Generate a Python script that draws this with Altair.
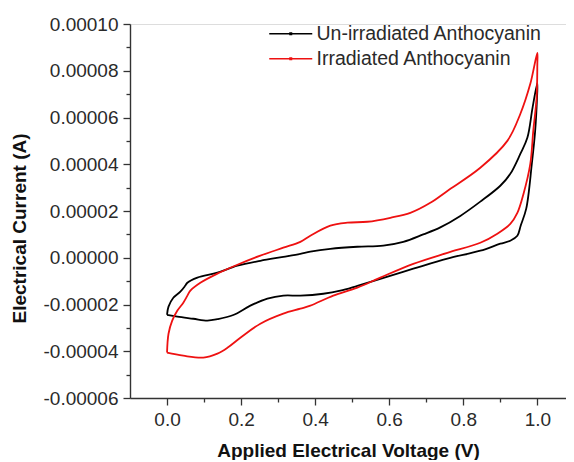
import altair as alt
import pandas as pd

series_names = ["Un-irradiated Anthocyanin", "Irradiated Anthocyanin"]
series_colors = ["#000000", "#ee1111"]

# Un-irradiated: forward scan then reverse scan (current in 1e-5 A)
un_x = [0.0, 0.004, 0.017, 0.036, 0.049, 0.055, 0.082, 0.136, 0.190, 0.252, 0.314, 0.360,
        0.387, 0.441, 0.514, 0.584, 0.638, 0.692, 0.738, 0.792, 0.846, 0.900, 0.927, 0.954,
        0.973, 0.987, 1.0,
        0.999, 0.994, 0.985, 0.970, 0.955, 0.946, 0.927, 0.900, 0.846, 0.757, 0.665, 0.576,
        0.514, 0.468, 0.422, 0.360, 0.314, 0.271, 0.225, 0.179, 0.136, 0.109, 0.071,
        0.028, 0.0]
un_y = [-2.44, -2.09, -1.71, -1.45, -1.20, -1.07, -0.85, -0.64, -0.34, -0.13, 0.04, 0.17,
        0.26, 0.38, 0.47, 0.52, 0.68, 1.00, 1.30, 1.79, 2.40, 3.08, 3.59, 4.44,
        5.13, 6.41, 7.48,
        6.8, 5.4, 4.0, 2.1, 1.37, 0.94, 0.73, 0.60, 0.30, -0.04, -0.47, -0.90,
        -1.20, -1.41, -1.54, -1.62, -1.62, -1.75, -2.05, -2.45, -2.63, -2.69, -2.61,
        -2.52, -2.44]

# Irradiated: forward scan then reverse scan (current in 1e-5 A)
ir_x = [0.0, 0.004, 0.014, 0.028, 0.044, 0.055, 0.063, 0.090, 0.136, 0.190, 0.252, 0.314,
        0.360, 0.387, 0.441, 0.487, 0.541, 0.603, 0.657, 0.711, 0.757, 0.846, 0.919, 0.954,
        0.981, 1.0,
        1.0, 0.998, 0.989, 0.981, 0.962, 0.946, 0.927, 0.892, 0.846, 0.757, 0.665, 0.576,
        0.514, 0.449, 0.387, 0.360, 0.314, 0.252, 0.198, 0.163, 0.136, 0.098, 0.044, 0.0]
ir_y = [-4.06, -3.25, -2.69, -2.26, -1.92, -1.62, -1.41, -1.07, -0.68, -0.30, 0.09, 0.43,
        0.68, 0.94, 1.37, 1.50, 1.54, 1.71, 1.92, 2.35, 2.86, 3.85, 5.0, 6.15,
        7.44, 8.76,
        8.3, 6.84, 5.43, 4.02, 2.7, 1.92, 1.45, 1.03, 0.64, 0.21, -0.26, -0.85,
        -1.28, -1.62, -2.05, -2.18, -2.39, -2.82, -3.42, -3.85, -4.10, -4.27, -4.19, -4.06]

x_ticks = [round(0.1 * k, 1) for k in range(0, 11)]
y_ticks = [round(k * 1e-5, 5) for k in range(-6, 11)]

rows = []
for name, xs, ys in [(series_names[0], un_x, un_y), (series_names[1], ir_x, ir_y)]:
    for i, (xv, yv) in enumerate(zip(xs, ys)):
        rows.append({"series": name, "i": i, "V": xv, "I": yv * 1e-5})
df = pd.DataFrame(rows)

FONT = "Liberation Sans"

x_axis = alt.Axis(
    title="Applied Electrical Voltage (V)",
    values=x_ticks,
    labelExpr="abs(round(datum.value*10)) % 2 == 0 ? format(datum.value, '.1f') : ''",
    tickSize={"condition": {"test": "abs(round(datum.value*10)) % 2 == 0", "value": 7}, "value": 4},
    labelOverlap=False,
    labelFlush=False,
    grid=False,
    labelFont=FONT, labelFontSize=19, labelColor="#2a2a2a", labelPadding=5,
    titleFont=FONT, titleFontSize=19, titleFontWeight="bold", titleColor="#111111",
    titlePadding=12,
    domainColor="#333333", domainWidth=1.4, tickColor="#333333", tickWidth=1.3,
)

y_axis = alt.Axis(
    title="Electrical Current (A)",
    values=y_ticks,
    labelExpr="abs(round(datum.value*1e5)) % 2 == 0 ? (datum.value < 0 ? '-' : '') + format(abs(datum.value), '.5f') : ''",
    tickSize={"condition": {"test": "abs(round(datum.value*1e5)) % 2 == 0", "value": 7}, "value": 4},
    labelOverlap=False,
    labelFlush=False,
    grid=False,
    labelFont=FONT, labelFontSize=19, labelColor="#2a2a2a", labelPadding=5,
    titleFont=FONT, titleFontSize=19, titleFontWeight="bold", titleColor="#111111",
    titlePadding=13, titleY=204,
    domainColor="#333333", domainWidth=1.4, tickColor="#333333", tickWidth=1.3,
)

legend = alt.Legend(
    title=None, orient="none", legendX=151, legendY=0, padding=0,
    symbolType="M-2.5,0H2.5M-0.1,-0.1H0.1V0.1H-0.1Z",
    symbolSize=296, symbolStrokeWidth=1.3,
    labelFont=FONT, labelFontSize=19.5, labelColor="#2a2a2a", labelLimit=0,
    labelOffset=16, rowPadding=4,
)

chart = alt.Chart(df).mark_line(strokeWidth=1.8, interpolate="catmull-rom").encode(
    x=alt.X("V:Q", scale=alt.Scale(domain=[-0.1, 1.0774], nice=False, zero=False), axis=x_axis),
    y=alt.Y("I:Q", scale=alt.Scale(domain=[-6e-5, 1e-4], nice=False, zero=False), axis=y_axis),
    color=alt.Color("series:N", scale=alt.Scale(domain=series_names, range=series_colors), legend=legend),
    order="i:Q",
    detail="series:N",
).properties(
    width=436, height=374,
    autosize=alt.AutoSizeParams(type="none"),
    padding={"left": 122, "top": 16, "right": 0, "bottom": 62},
).configure_view(stroke=None).configure(background="white")

chart.save("out.html", embed_options={"renderer": "svg", "actions": False})
